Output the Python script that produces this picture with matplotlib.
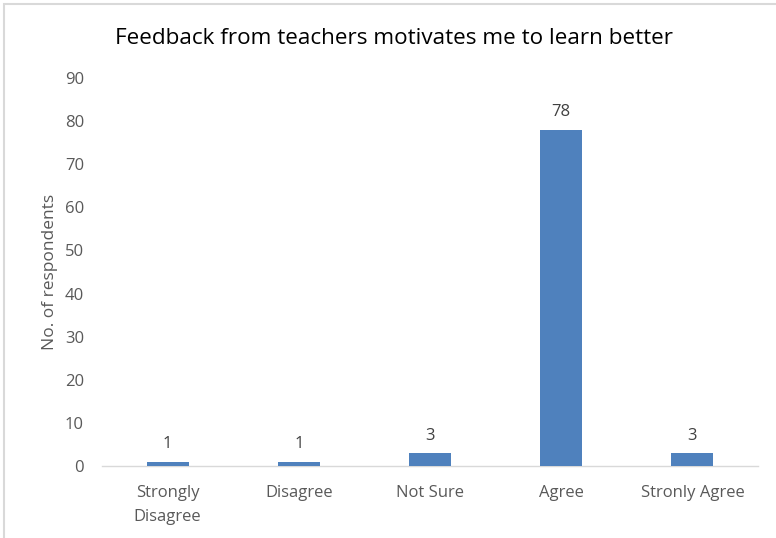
import matplotlib
matplotlib.use("Agg")
import matplotlib.pyplot as plt
from matplotlib.patches import Rectangle

categories = ["Strongly\nDisagree", "Disagree", "Not Sure", "Agree", "Stronly Agree"]
values = [1, 1, 3, 78, 3]
yticks = [0, 10, 20, 30, 40, 50, 60, 70, 80, 90]
title = "Feedback from teachers motivates me to learn better"
ylabel = "No. of respondents"

W, H = 776, 538
fig = plt.figure(figsize=(W / 100, H / 100), dpi=100)
plt.rcParams['font.family'] = ['Open Sans', 'DejaVu Sans']

ax = fig.add_axes([102 / W, 72 / H, (758 - 102) / W, (466 - 78) / H])
x = list(range(len(categories)))
ax.bar(x, values, width=0.32, color="#4f81bd", zorder=3)
ax.set_xlim(-0.5, len(categories) - 0.5)
ax.set_ylim(0, 90)
ax.set_yticks(yticks)
ax.set_xticks(x)
ax.set_xticklabels(categories, fontsize=12, color="#595959", linespacing=1.6)
ax.tick_params(axis='y', labelsize=12, labelcolor="#595959", length=0, pad=13)
ax.tick_params(axis='x', length=0, pad=14)
for s in ["top", "right", "left"]:
    ax.spines[s].set_visible(False)
ax.spines["bottom"].set_color("#d9d9d9")
ax.spines["bottom"].set_linewidth(1)

for xi, v in zip(x, values):
    ax.text(xi, v + 2.2, str(v), ha="center", va="bottom", fontsize=12, color="#404040")

ax.set_ylabel(ylabel, fontsize=12.5, color="#595959", labelpad=5)
fig.text((115 + 673) / 2 / W, 1 - 38 / H, title, ha="center", va="center", fontsize=16.2, color="#000000")

fig.patches.append(Rectangle((4 / W, -0.1), 1.2, 1 - 4 / H + 0.1, transform=fig.transFigure,
                             fill=False, edgecolor="#d9d9d9", linewidth=1.5))

fig.savefig("out.png", dpi=100)
